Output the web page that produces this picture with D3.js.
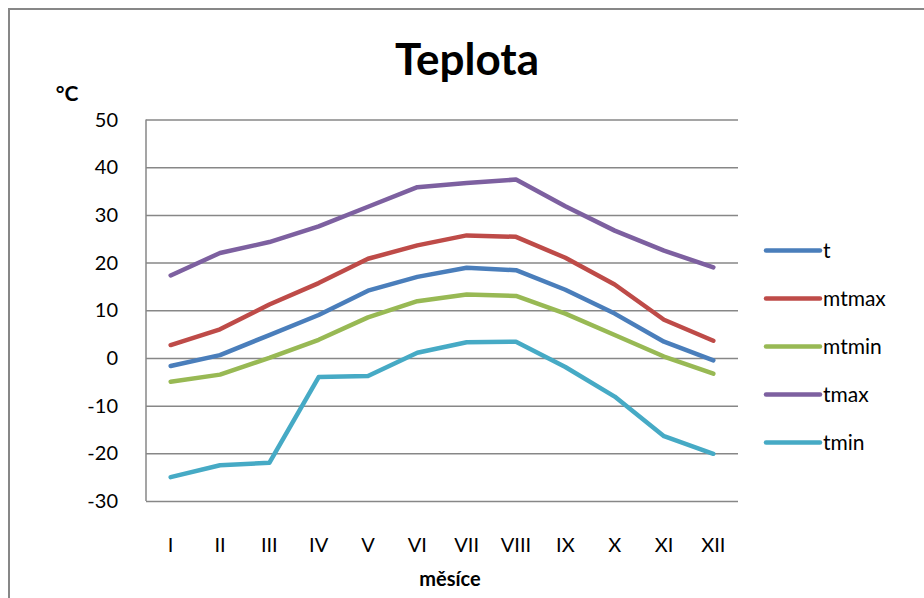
<!DOCTYPE html>
<html>
<head>
<meta charset="utf-8">
<script src="https://cdn.jsdelivr.net/npm/d3@7"></script>
<style>
  html, body { margin: 0; padding: 0; background: #fff; }
  svg { display: block; font-family: Lato, "Open Sans", sans-serif; }
</style>
</head>
<body>
<div id="chart"></div>
<script>
// months on the x axis
const months = ["I", "II", "III", "IV", "V", "VI", "VII", "VIII", "IX", "X", "XI", "XII"]
const yTicks = [50, 40, 30, 20, 10, 0, -10, -20, -30]

// series values
const t     = [-1.7, 0.6, 4.8, 9.0, 14.1, 17.0, 18.9, 18.4, 14.3, 9.3, 3.4, -0.5]
const mtmax = [2.7, 6.0, 11.2, 15.7, 20.8, 23.6, 25.7, 25.4, 21.0, 15.4, 8.0, 3.6]
const mtmin = [-5.0, -3.5, 0.0, 3.8, 8.5, 11.9, 13.3, 13.0, 9.3, 4.8, 0.3, -3.3]
const tmax  = [17.3, 22.0, 24.3, 27.6, 31.7, 35.8, 36.7, 37.4, 31.8, 26.7, 22.5, 19.0]
const tmin  = [-25.0, -22.5, -22.0, -4.0, -3.8, 1.1, 3.3, 3.4, -1.9, -8.1, -16.4, -20.1]

const seriesNames = ["t", "mtmax", "mtmin", "tmax", "tmin"]
const seriesValues = [t, mtmax, mtmin, tmax, tmin]
const colors = ["#4a7ebb", "#be4b48", "#98b954", "#7d60a0", "#46aac5"]

const width = 924, height = 598
const margin = {top: 119.5, right: 186, bottom: 97, left: 146}

const svg = d3.select("#chart").append("svg")
    .attr("width", width)
    .attr("height", height)

// outer chart frame (runs off the right and bottom edge)
svg.append("rect")
    .attr("x", 9).attr("y", 9)
    .attr("width", width + 20).attr("height", height + 20)
    .attr("fill", "none")
    .attr("stroke", "#878787")
    .attr("stroke-width", 2)

const x = d3.scaleBand()
    .domain(months)
    .range([margin.left, width - margin.right])

const y = d3.scaleLinear()
    .domain([-30, 50])
    .range([height - margin.bottom, margin.top])

// horizontal gridlines
svg.append("g")
    .attr("transform", `translate(${margin.left},0)`)
    .call(d3.axisLeft(y).tickValues(yTicks)
        .tickSize(-(width - margin.right - margin.left))
        .tickFormat(""))
    .call(g => g.select(".domain").remove())
    .call(g => g.selectAll("line").attr("stroke", "#878787").attr("stroke-width", 1.5))

// y axis line and labels
svg.append("line")
    .attr("x1", margin.left).attr("x2", margin.left)
    .attr("y1", y(50)).attr("y2", y(-30))
    .attr("stroke", "#878787").attr("stroke-width", 1.5)

svg.append("g")
    .selectAll("text")
    .data(yTicks)
  .enter().append("text")
    .attr("x", 118)
    .attr("y", d => y(d))
    .attr("dy", "0.35em")
    .attr("text-anchor", "end")
    .attr("font-size", 20)
    .attr("fill", "#000")
    .text(d => d)

// x labels
svg.append("g")
    .selectAll("text")
    .data(months)
  .enter().append("text")
    .attr("x", d => x(d) + x.bandwidth() / 2)
    .attr("y", 545)
    .attr("dy", "0.35em")
    .attr("text-anchor", "middle")
    .attr("font-size", 20)
    .attr("fill", "#000")
    .text(d => d)

// titles
svg.append("text")
    .attr("x", 467).attr("y", 75)
    .attr("text-anchor", "middle")
    .attr("font-size", 44)
    .attr("font-weight", "bold")
    .text("Teplota")

svg.append("text")
    .attr("x", 67).attr("y", 94)
    .attr("dy", "0.35em")
    .attr("text-anchor", "middle")
    .attr("font-size", 21)
    .attr("font-weight", "bold")
    .text("°C")

svg.append("text")
    .attr("x", 450).attr("y", 579)
    .attr("dy", "0.35em")
    .attr("text-anchor", "middle")
    .attr("font-size", 20)
    .attr("font-weight", "bold")
    .text("měsíce")

// the lines
const line = d3.line()
    .x((d, i) => x(months[i]) + x.bandwidth() / 2)
    .y(d => y(d))

svg.append("g")
    .selectAll("path")
    .data(seriesValues)
  .enter().append("path")
    .attr("d", d => line(d))
    .attr("fill", "none")
    .attr("stroke", (d, i) => colors[i])
    .attr("stroke-width", 4.5)
    .attr("stroke-linecap", "round")
    .attr("stroke-linejoin", "round")

// legend
const legend = svg.append("g")
    .selectAll("g")
    .data(seriesNames)
  .enter().append("g")
    .attr("transform", (d, i) => `translate(766,${250.5 + i * 48})`)

legend.append("line")
    .attr("x1", 0).attr("x2", 54)
    .attr("stroke", (d, i) => colors[i])
    .attr("stroke-width", 4.5)
    .attr("stroke-linecap", "round")

legend.append("text")
    .attr("x", 57)
    .attr("dy", "0.35em")
    .attr("font-size", 21)
    .text(d => d)
</script>
</body>
</html>
